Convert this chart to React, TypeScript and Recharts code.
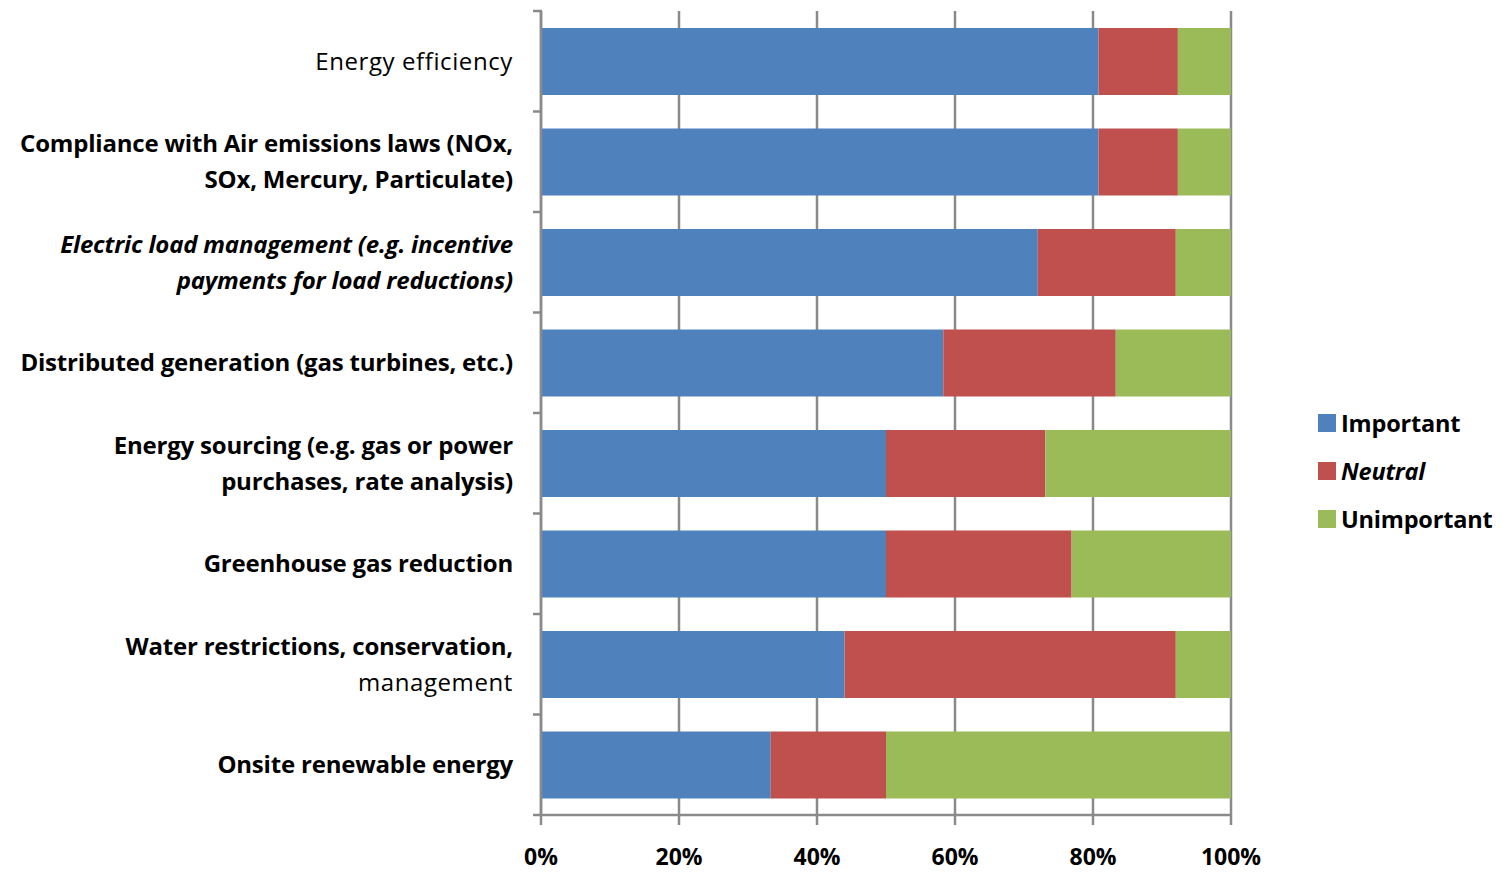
import { BarChart, Bar, XAxis, YAxis, CartesianGrid, Legend } from "recharts"

// Survey categories (line breaks as shown in the chart)
const categories = [
  "Energy efficiency",
  "Compliance with Air emissions laws (NOx,\nSOx, Mercury, Particulate)",
  "Electric load management (e.g. incentive\npayments for load reductions)",
  "Distributed generation (gas turbines, etc.)",
  "Energy sourcing (e.g. gas or power\npurchases, rate analysis)",
  "Greenhouse gas reduction",
  "Water restrictions, conservation,\nmanagement",
  "Onsite renewable energy",
]

// percent of respondents
const important = [80.8, 80.8, 72, 58.3, 50, 50, 44, 33.3]
const neutral = [11.5, 11.5, 20, 25, 23.1, 26.9, 48, 16.7]
const unimportant = [7.7, 7.7, 8, 16.7, 26.9, 23.1, 8, 50]

const xTicks = [0, 20, 40, 60, 80, 100]

const data = categories.map((name, i) => ({
  name,
  Important: important[i],
  Neutral: neutral[i],
  Unimportant: unimportant[i],
}))

const FONT = "'Open Sans', sans-serif"
const GRAY = "#8a8a8a"
const CHART_W = 1495
const CHART_H = 865
const MARGIN = { top: 3, right: 272, bottom: 0, left: 0 }
const X_AXIS_H = 58
const PLOT_H = CHART_H - MARGIN.top - MARGIN.bottom - X_AXIS_H
const BAND = PLOT_H / categories.length

const regularLines = ["Energy efficiency", "management"]

const CategoryTick = (props: any) => {
  const { x, y, payload, index } = props
  const lines: string[] = String(payload.value).split("\n")
  const lh = 36
  const startY = y - ((lines.length - 1) * lh) / 2
  const italic = String(payload.value).startsWith("Electric")
  return (
    <g>
      <line x1={x + 20} x2={x + 29} y1={y - BAND / 2} y2={y - BAND / 2} stroke={GRAY} strokeWidth={2.5} />
      {index === categories.length - 1 && (
        <line x1={x + 20} x2={x + 29} y1={y + BAND / 2} y2={y + BAND / 2} stroke={GRAY} strokeWidth={2.5} />
      )}
      <text x={x} y={startY} textAnchor="end" fontFamily={FONT} fontSize={24} fill="#000">
        {lines.map((l, i) => (
          <tspan
            key={i}
            x={x}
            y={startY + i * lh}
            dy="0.35em"
            fontWeight={regularLines.includes(l) ? 400 : 700}
            fontStyle={italic ? "italic" : "normal"}
            letterSpacing={regularLines.includes(l) ? 0.6 : -0.2}
          >
            {l}
          </tspan>
        ))}
      </text>
    </g>
  )
}

const colors: Record<string, string> = {
  Important: "#4F81BD",
  Neutral: "#C0504D",
  Unimportant: "#9BBB59",
}

const LegendContent = () => (
  <div style={{ fontFamily: FONT }}>
    {Object.keys(colors).map((k) => (
      <div key={k} style={{ display: "flex", alignItems: "center", height: 48 }}>
        <div style={{ width: 18, height: 18, background: colors[k], marginRight: 5 }} />
        <span
          style={{
            fontSize: 23.5,
            fontWeight: 700,
            fontStyle: k === "Neutral" ? "italic" : "normal",
            color: "#000",
            letterSpacing: -0.2,
            whiteSpace: "nowrap",
          }}
        >
          {k}
        </span>
      </div>
    ))}
  </div>
)

export default function App() {
  return (
    <BarChart
      width={CHART_W}
      height={CHART_H}
      data={data}
      layout="vertical"
      margin={MARGIN}
      barCategoryGap={0}
    >
      <CartesianGrid horizontal={false} vertical stroke={GRAY} strokeWidth={2.5} />
      <XAxis
        type="number"
        domain={[0, 100]}
        ticks={xTicks}
        tickFormatter={(v) => `${v}%`}
        height={X_AXIS_H}
        axisLine={{ stroke: GRAY, strokeWidth: 2.5 }}
        tickLine={{ stroke: GRAY, strokeWidth: 2.5 }}
        tickSize={10}
        tickMargin={24}
        tick={{ fontFamily: FONT, fontSize: 23, fontWeight: 700, fill: "#000" }}
      />
      <YAxis
        type="category"
        dataKey="name"
        width={533}
        axisLine={{ stroke: GRAY, strokeWidth: 2.5 }}
        tickLine={false}
        tickSize={8}
        tickMargin={20}
        interval={0}
        tick={<CategoryTick />}
      />
      <Legend
        layout="vertical"
        align="center"
        verticalAlign="middle"
        wrapperStyle={{ left: 1310, top: 391, width: 185 }}
        content={<LegendContent />}
      />
      <Bar dataKey="Important" stackId="a" fill={colors.Important} barSize={67} isAnimationActive={false} />
      <Bar dataKey="Neutral" stackId="a" fill={colors.Neutral} barSize={67} isAnimationActive={false} />
      <Bar dataKey="Unimportant" stackId="a" fill={colors.Unimportant} barSize={67} isAnimationActive={false} />
    </BarChart>
  )
}
